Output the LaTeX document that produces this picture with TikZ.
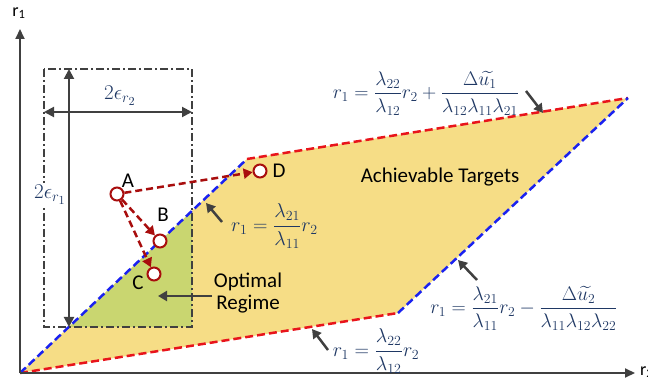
\documentclass[tikz,border=0pt]{standalone}
\usepackage{amsmath}
\usepackage{graphicx}
\usepackage{fontspec}
\setmainfont{Carlito}
\usetikzlibrary{arrows.meta}
\definecolor{axisgray}{HTML}{404040}
\definecolor{fillyellow}{HTML}{F6DD86}
\definecolor{fillgreen}{HTML}{C9D670}
\definecolor{dashred}{HTML}{E8141B}
\definecolor{dashblue}{HTML}{1A22F0}
\definecolor{darkred}{HTML}{A80D0D}
\definecolor{navy}{HTML}{1F3864}
\newcommand{\myeq}[2]{\scalebox{#1}{$\displaystyle #2$}}
\tikzset{
  axisline/.style={draw=axisgray, line width=2pt, -{Triangle[length=10pt,width=9pt]}},
  dimarrow/.style={draw=axisgray, line width=2pt, {Triangle[length=10pt,width=10pt]}-{Triangle[length=10pt,width=10pt]}},
  ptr/.style={draw=axisgray, line width=2.5pt, -{Triangle[length=9pt,width=10pt]}},
  redline/.style={draw=dashred, line width=2.5pt, dash pattern=on 8pt off 4pt},
  blueline/.style={draw=dashblue, line width=2.5pt, dash pattern=on 8pt off 4pt},
  boxline/.style={draw=axisgray, line width=2pt, dash pattern=on 8pt off 3pt on 2pt off 3pt},
  moveline/.style={draw=darkred, line width=2.5pt, dash pattern=on 7pt off 4pt, -{Triangle[length=9pt,width=10pt]}},
  pt/.style={circle, draw=darkred, line width=2pt, fill=white, minimum size=13pt, inner sep=0pt},
  lbl/.style={font=\fontsize{21}{23}\selectfont, text=black, inner sep=1pt},
  eq/.style={font=\fontsize{17.28}{21}\selectfont, text=navy, inner sep=1pt},
}
\begin{document}
\begin{tikzpicture}[x=1pt,y=-1pt]
\useasboundingbox (0,0) rectangle (648,387);
% regions
\coordinate (O) at (20,373);
\coordinate (P2) at (398,313);
\coordinate (P3) at (628,98);
\coordinate (P4) at (247,159);
\fill[fillyellow] (O) -- (P2) -- (P3) -- (P4) -- cycle;
\coordinate (G1) at (69,327);
\coordinate (G2) at (192,211);
\coordinate (G3) at (192,327);
\fill[fillgreen] (G1) -- (G2) -- (G3) -- cycle;
% boundary lines
\draw[redline] (O) -- (P2);
\draw[redline] (P4) -- (P3);
\draw[blueline] (O) -- (P4);
\draw[blueline] (P2) -- (P3);
% axes
\coordinate (Ytip) at (20,29);
\coordinate (Xtip) at (635,373);
\draw[axisline] (O) -- (Ytip);
\draw[axisline] (O) -- (Xtip);
\node[lbl, font=\fontsize{18}{20}\selectfont] (r1) at (19,13) {r\textsubscript{1}};
\node[lbl, font=\fontsize{18}{20}\selectfont, anchor=west] (r2) at (639,372) {r\textsubscript{2}};
% epsilon box
\coordinate (B1) at (44,69);
\coordinate (B2) at (192,327);
\draw[boxline] (B1) rectangle (B2);
\coordinate (V1) at (69,69);
\coordinate (V2) at (69,327);
\draw[dimarrow] (V1) -- (V2);
\coordinate (H1) at (44,112);
\coordinate (H2) at (192,112);
\draw[dimarrow] (H1) -- (H2);
\node[eq] (e2) at (120,96) {\myeq{1.22}{2\epsilon_{r_2}}};
\node[eq, fill=white, inner sep=2pt] (e1) at (50,195) {\myeq{1.22}{2\epsilon_{r_1}}};
% points
\node[pt] (A) at (117,194) {};
\node[pt] (B) at (160,241) {};
\node[pt] (C) at (154,274) {};
\node[pt] (D) at (260,171) {};
\draw[moveline] (A) -- (B);
\draw[moveline] (A) -- (C);
\draw[moveline] (A) -- (D);
\node[lbl] (lA) at (128,181) {A};
\node[lbl] (lB) at (163,215) {B};
\node[lbl] (lC) at (138,283) {C};
\node[lbl] (lD) at (279,171) {D};
% texts
\node[lbl] (ach) at (440,177) {Achievable Targets};
\node[lbl, align=center, font=\fontsize{21}{22}\selectfont] (opt) at (248,293) {Optimal\\Regime};
\coordinate (optT) at (212,296);
\coordinate (optH) at (158,296);
\draw[ptr] (optT) -- (optH);
% equations
\node[eq, anchor=west] (eqA) at (230,226) {\myeq{1.16}{r_1=\frac{\lambda_{21}}{\lambda_{11}}r_2}};
\coordinate (eqAT) at (222,222);
\coordinate (eqAH) at (206,203);
\draw[ptr] (eqAT) -- (eqAH);
\node[eq] (eqB) at (426,93) {\myeq{1.14}{r_1=\frac{\lambda_{22}}{\lambda_{12}}r_2+\frac{\Delta\widetilde{u_1}}{\lambda_{12}\lambda_{11}\lambda_{21}}}};
\coordinate (eqBT) at (526,91);
\coordinate (eqBH) at (543,113);
\draw[ptr] (eqBT) -- (eqBH);
\node[eq] (eqC) at (524,308) {\myeq{1.14}{r_1=\frac{\lambda_{21}}{\lambda_{11}}r_2-\frac{\Delta\widetilde{u_2}}{\lambda_{11}\lambda_{12}\lambda_{22}}}};
\coordinate (eqCT) at (477,280);
\coordinate (eqCH) at (458,260);
\draw[ptr] (eqCT) -- (eqCH);
\node[eq] (eqD) at (376,351) {\myeq{1.16}{r_1=\frac{\lambda_{22}}{\lambda_{12}}r_2}};
\coordinate (eqDT) at (328,350);
\coordinate (eqDH) at (312,329);
\draw[ptr] (eqDT) -- (eqDH);
\end{tikzpicture}
\end{document}
